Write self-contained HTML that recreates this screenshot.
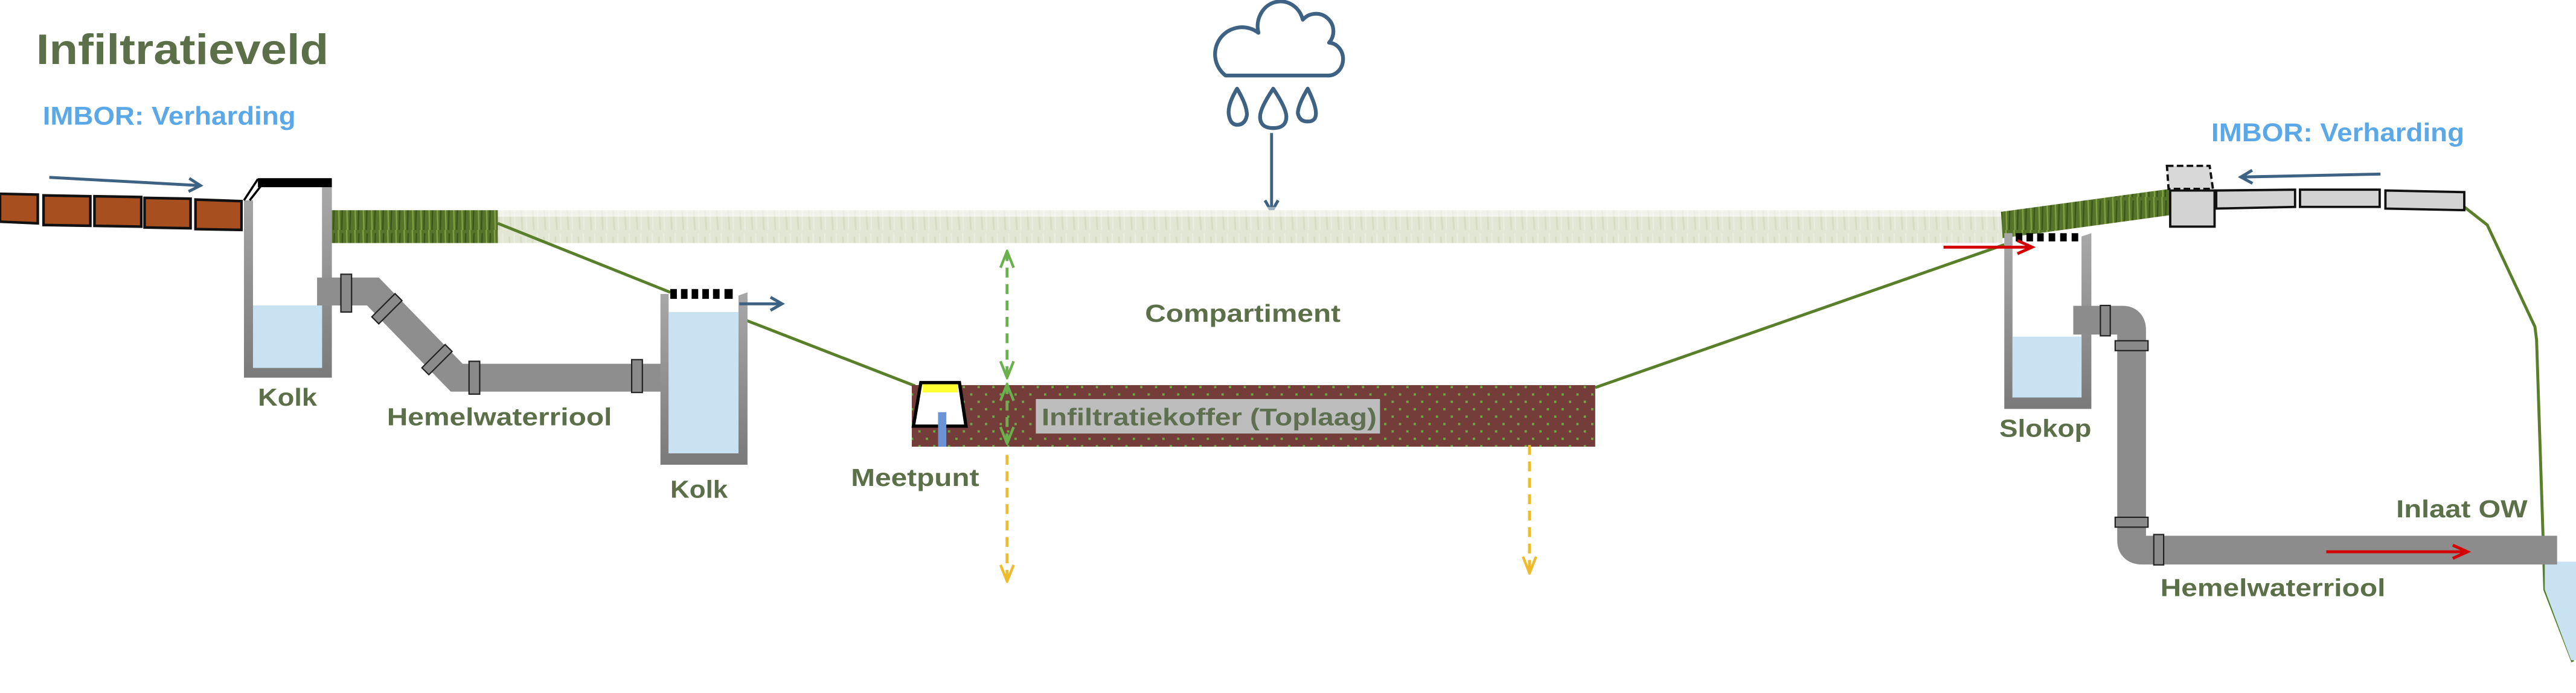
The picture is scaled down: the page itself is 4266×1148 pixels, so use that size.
<!DOCTYPE html>
<html><head><meta charset="utf-8"><style>
html,body{margin:0;padding:0;background:#fff;}
svg{display:block;}
text{font-family:"Liberation Sans",sans-serif;font-weight:bold;}
</style></head><body>
<svg width="4266" height="1148" viewBox="0 0 1568 422" preserveAspectRatio="none" xmlns="http://www.w3.org/2000/svg">
<defs>
<pattern id="dots" width="9" height="9" patternUnits="userSpaceOnUse">
<rect width="9" height="9" fill="#743d3a"/>
<rect x="1" y="1" width="1.4" height="1.4" fill="#6aaa40"/>
<rect x="5.5" y="5.5" width="1.4" height="1.4" fill="#6aaa40"/>
</pattern>
<pattern id="pale" width="7" height="20" patternUnits="userSpaceOnUse">
<rect width="7" height="20" fill="#e2e6d4"/>
<line x1="2" y1="4" x2="3" y2="20" stroke="#d6dcc2" stroke-width="1"/>
<line x1="5" y1="2" x2="5.5" y2="20" stroke="#eaeddf" stroke-width="0.8"/>
</pattern>
<pattern id="dark" width="5" height="20" patternUnits="userSpaceOnUse">
<rect width="5" height="20" fill="#56752a"/>
<line x1="1" y1="0" x2="1.5" y2="20" stroke="#82a042" stroke-width="0.9"/>
<line x1="3.5" y1="2" x2="3" y2="20" stroke="#3c561a" stroke-width="0.9"/>
</pattern>
<linearGradient id="wallg" x1="0" y1="0" x2="0" y2="1"><stop offset="0" stop-color="#a8a8a8"/><stop offset="1" stop-color="#7a7a7a"/></linearGradient>
<marker id="ab" markerWidth="10" markerHeight="10" refX="8" refY="5" orient="auto" markerUnits="userSpaceOnUse"><path d="M1,1 L8,5 L1,9" fill="none" stroke="#3d6283" stroke-width="1.8"/></marker>
<marker id="ar" markerWidth="12" markerHeight="10" refX="10" refY="5" orient="auto" markerUnits="userSpaceOnUse"><path d="M1,1 L10,5 L1,9" fill="none" stroke="#d40000" stroke-width="1.8"/></marker>
<marker id="ag" markerWidth="12" markerHeight="10" refX="11" refY="5" orient="auto-start-reverse" markerUnits="userSpaceOnUse"><path d="M1,1 L11,5 L1,9" fill="none" stroke="#6ab04c" stroke-width="1.6"/></marker>
<marker id="ay" markerWidth="12" markerHeight="10" refX="11" refY="5" orient="auto" markerUnits="userSpaceOnUse"><path d="M1,1 L11,5 L1,9" fill="none" stroke="#f0bb2a" stroke-width="1.6"/></marker>
</defs>

<!-- Title -->
<text x="22" y="39" font-size="26" fill="#5b6f48" textLength="178" lengthAdjust="spacingAndGlyphs">Infiltratieveld</text>
<text x="26" y="76" font-size="15.5" fill="#5aa8e8" textLength="154" lengthAdjust="spacingAndGlyphs">IMBOR: Verharding</text>
<text x="1346" y="86" font-size="15.5" fill="#5aa8e8" textLength="154" lengthAdjust="spacingAndGlyphs">IMBOR: Verharding</text>

<!-- Cloud -->
<g fill="none" stroke="#3d6283" stroke-width="2.3" stroke-linejoin="round">
<path d="M746,46 L808,46 A9,10 0 0 0 809,26 A10,10 0 0 0 793,12 A12,13 0 0 0 766,20 A14,14 0 0 0 746,46 Z"/>
<path d="M753,54 Q747,64 748,70 Q749,76 753,76 Q758,76 759,70 Q759,64 753,54 Z"/>
<path d="M775,54 Q767,66 767,71 Q767,78 775,78 Q783,78 783,71 Q783,66 775,54 Z"/>
<path d="M796,54 Q790,64 790,69 Q791,74 796,74 Q801,74 801,69 Q801,64 796,54 Z"/>
</g>
<line x1="774" y1="81" x2="774" y2="129" stroke="#3d6283" stroke-width="1.8" marker-end="url(#ab)"/>

<!-- pale grass strip -->
<rect x="302" y="128" width="917" height="20" fill="url(#pale)"/>
<rect x="302" y="126" width="917" height="6" fill="#fff" opacity="0.5"/>
<rect x="202" y="128" width="101" height="20" fill="url(#dark)"/>
<polygon points="1218,129 1321,115 1321,131 1219,145" fill="url(#dark)"/>

<!-- green profile line -->
<polyline points="303,136 408,178" fill="none" stroke="#5a7f2a" stroke-width="1.8"/>
<polyline points="454,195 557,235" fill="none" stroke="#5a7f2a" stroke-width="1.8"/>
<polyline points="971,236 1220,149" fill="none" stroke="#5a7f2a" stroke-width="1.8"/>
<polyline points="1500,126 1514,137 1543,199 1544,207 1549,359 1566,403" fill="none" stroke="#5a7f2a" stroke-width="1.8"/>
<polygon points="1549,342 1568,342 1568,402 1565,402 1549,359" fill="#c8e2f2"/>

<!-- bricks -->
<g fill="#a84f20" stroke="#111" stroke-width="1.6">
<polygon points="0,118 23,118.5 23,136 0,135"/>
<polygon points="26.5,119 55,119.5 55,137.5 26.5,137"/>
<polygon points="57.5,119.5 86,120 86,138 57.5,137.5"/>
<polygon points="88,120.5 116,121 116,139 88,138.5"/>
<polygon points="119,121.5 147,122.5 147,140 119,139.5"/>
</g>
<line x1="30" y1="108" x2="122" y2="113" stroke="#3d6283" stroke-width="1.8" marker-end="url(#ab)"/>

<!-- Kolk 1 -->
<polygon points="148.5,122 154,122 154,224 196,224 196,114 202,114 202,230 148.5,230" fill="url(#wallg)"/>
<rect x="154" y="186" width="42" height="38" fill="#c8e2f2"/>
<rect x="157" y="108.5" width="45" height="5.5" fill="#000"/>
<line x1="148.5" y1="122" x2="157" y2="109" stroke="#000" stroke-width="1.3"/>
<line x1="152" y1="122" x2="159" y2="113" stroke="#000" stroke-width="1.3"/>
<text x="157" y="247" font-size="15" fill="#5b6f48" textLength="36" lengthAdjust="spacingAndGlyphs">Kolk</text>

<!-- pipe 1 -->
<polyline points="193,177.5 227,177.5 278,230 405,230" fill="none" stroke="#8e8e8e" stroke-width="17" stroke-linejoin="miter"/>
<g fill="#8a8a8a" stroke="#222" stroke-width="0.8">
<rect x="207.5" y="167" width="6.5" height="23"/>
<rect x="285.5" y="220" width="6.5" height="20"/>
<rect x="384.5" y="219" width="6.5" height="20"/>
<rect x="-3" y="-10" width="6" height="20" transform="translate(235.5,188) rotate(45)"/>
<rect x="-3" y="-10" width="6" height="20" transform="translate(266,219) rotate(45)"/>
</g>
<text x="235.5" y="259" font-size="15" fill="#5b6f48" textLength="137" lengthAdjust="spacingAndGlyphs">Hemelwaterriool</text>

<!-- Kolk 2 -->
<polygon points="402,179 407,179 407,276 449.5,276 449.5,180 455,178 455,283 402,283" fill="url(#wallg)"/>
<rect x="407" y="190" width="42.5" height="86" fill="#c8e2f2"/>
<g fill="#000">
<rect x="408" y="176" width="4" height="6"/><rect x="414.5" y="176" width="4" height="6"/><rect x="421" y="176" width="4" height="6"/><rect x="427.5" y="176" width="4" height="6"/><rect x="434" y="176" width="4" height="6"/><rect x="441" y="176" width="5" height="6"/>
</g>
<line x1="450" y1="185" x2="476" y2="185" stroke="#3d6283" stroke-width="1.8" marker-end="url(#ab)"/>
<text x="408" y="303" font-size="15" fill="#5b6f48" textLength="35" lengthAdjust="spacingAndGlyphs">Kolk</text>

<text x="697" y="196" font-size="15" fill="#5b6f48" textLength="119" lengthAdjust="spacingAndGlyphs">Compartiment</text>

<!-- Infiltratiekoffer -->
<rect x="555" y="234.5" width="416" height="37.5" fill="url(#dots)"/>
<rect x="630.5" y="243" width="209.5" height="21" fill="#bdbdbd"/>
<text x="634" y="259" font-size="14.5" fill="#5e7050" textLength="204" lengthAdjust="spacingAndGlyphs">Infiltratiekoffer  (Toplaag)</text>

<!-- Meetpunt -->
<polygon points="560.5,233 584,233 588,259.5 556,259.5" fill="#fff" stroke="#000" stroke-width="2"/>
<rect x="561.5" y="234" width="21.5" height="5" fill="#ffff33"/>
<rect x="571" y="251" width="5" height="21" fill="#6a94d6"/>
<text x="518" y="296" font-size="15" fill="#5b6f48" textLength="78" lengthAdjust="spacingAndGlyphs">Meetpunt</text>

<!-- dashed arrows -->
<line x1="613" y1="153" x2="613" y2="230" stroke="#6ab04c" stroke-width="1.8" stroke-dasharray="6,4" marker-start="url(#ag)" marker-end="url(#ag)"/>
<line x1="613" y1="234" x2="613" y2="270" stroke="#6ab04c" stroke-width="1.8" stroke-dasharray="6,4" marker-start="url(#ag)" marker-end="url(#ag)"/>
<line x1="613" y1="277" x2="613" y2="354" stroke="#f0bb2a" stroke-width="1.8" stroke-dasharray="6,4" marker-end="url(#ay)"/>
<line x1="931" y1="271" x2="931" y2="349" stroke="#f0bb2a" stroke-width="1.8" stroke-dasharray="6,4" marker-end="url(#ay)"/>

<!-- Slokop -->
<polygon points="1220,142 1225,142 1225,242 1267,242 1267,144 1273,142 1273,249 1220,249" fill="url(#wallg)"/>
<rect x="1225" y="205" width="42" height="37" fill="#c8e2f2"/>
<g fill="#000">
<rect x="1227" y="142" width="4" height="5"/><rect x="1233.5" y="142" width="4" height="5"/><rect x="1240" y="142" width="4" height="5"/><rect x="1247" y="142" width="4" height="5"/><rect x="1254" y="142" width="4" height="5"/><rect x="1261" y="142" width="4" height="5"/>
</g>
<line x1="1183" y1="150.5" x2="1237" y2="150.5" stroke="#d40000" stroke-width="1.8" marker-end="url(#ar)"/>
<text x="1217" y="266" font-size="15" fill="#5b6f48" textLength="56" lengthAdjust="spacingAndGlyphs">Slokop</text>

<!-- pipe 2 -->
<path d="M1262,195 L1292,195 Q1297.5,195 1297.5,201 L1297.5,329 Q1297.5,335 1304,335 L1556.5,335" fill="none" stroke="#8c8c8c" stroke-width="17.5"/>
<g fill="#8a8a8a" stroke="#222" stroke-width="0.8">
<rect x="1278.5" y="186" width="6" height="18.5"/>
<rect x="1287.5" y="207.5" width="20" height="6"/>
<rect x="1287.5" y="315" width="20" height="6"/>
<rect x="1311" y="325.5" width="6" height="18.5"/>
</g>
<line x1="1416" y1="336" x2="1502" y2="336" stroke="#d40000" stroke-width="1.8" marker-end="url(#ar)"/>
<text x="1458.5" y="315" font-size="15" fill="#5b6f48" textLength="80" lengthAdjust="spacingAndGlyphs">Inlaat OW</text>
<text x="1315" y="363" font-size="15" fill="#5b6f48" textLength="137" lengthAdjust="spacingAndGlyphs">Hemelwaterriool</text>

<!-- right pavement -->
<rect x="1321" y="116" width="27" height="22" fill="#d3d3d3" stroke="#111" stroke-width="1.4"/>
<polygon points="1319,101 1345,101 1347,115 1320,115" fill="#d8d8d8" stroke="#111" stroke-width="1.4" stroke-dasharray="4,2"/>
<g fill="#d3d3d3" stroke="#111" stroke-width="1.4">
<polygon points="1349,116 1397,115.5 1397,126 1349,127"/>
<polygon points="1400,115.5 1448.5,115.5 1448.5,126 1400,126"/>
<polygon points="1452,116 1500,117 1500,128 1452,127"/>
</g>
<line x1="1449" y1="106" x2="1364" y2="107.8" stroke="#3d6283" stroke-width="1.8" marker-end="url(#ab)"/>
</svg>
</body></html>
